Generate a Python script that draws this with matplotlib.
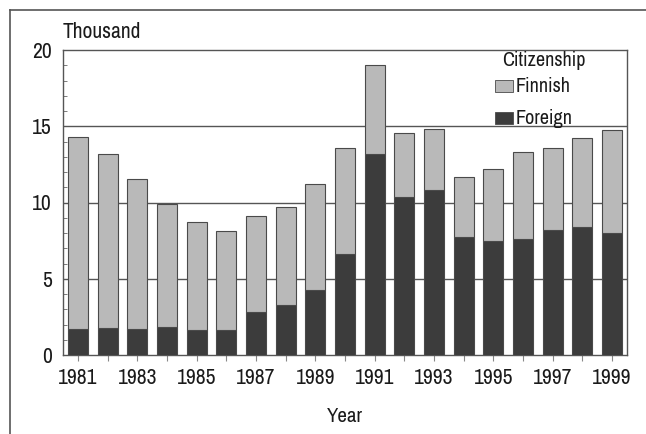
import numpy as np
import matplotlib
matplotlib.use('Agg')
import matplotlib.pyplot as plt
from matplotlib.lines import Line2D
from matplotlib.patches import Rectangle
from matplotlib.ticker import MultipleLocator
from matplotlib import font_manager

names = sorted(set(f.name for f in font_manager.fontManager.ttflist))
cond = [n for n in names if 'Narrow' in n or 'Condensed' in n]
plt.rcParams['font.family'] = cond[:1] + ['Liberation Sans', 'DejaVu Sans'] if cond else ['Liberation Sans', 'DejaVu Sans']
plt.rcParams['font.stretch'] = 'condensed'
plt.rcParams['font.weight'] = 'medium'

# data (thousand persons)
years = list(range(1981, 2000))
total = [14.3, 13.2, 11.55, 9.9, 8.75, 8.15, 9.1, 9.7, 11.2,
         13.55, 19.0, 14.55, 14.8, 11.65, 12.2, 13.3, 13.6, 14.2, 14.75]
foreign = [1.68, 1.75, 1.7, 1.82, 1.62, 1.62, 2.82, 3.28, 4.26,
           6.6, 13.2, 10.35, 10.85, 7.72, 7.45, 7.63, 8.22, 8.37, 8.02]
finnish = [t - f for t, f in zip(total, foreign)]

c_fin = '#b9b9b9'
c_for = '#3c3c3c'
c_edge = '#4a4a4a'
c_txt = '#1a1a1a'

fig = plt.figure(figsize=(6.46, 4.34), dpi=100)
W, H = 646., 434.
ax = fig.add_axes([63/W, 1-355/H, (627-63)/W, (355-50)/H])

ax.bar(years, foreign, width=0.67, color=c_for, edgecolor=c_edge, linewidth=0.8, zorder=3)
ax.bar(years, finnish, width=0.67, bottom=foreign, color=c_fin, edgecolor=c_edge, linewidth=0.8, zorder=3)

for yv in [5, 10, 15]:
    ax.axhline(yv, color='#555555', lw=1.0, zorder=1)

ax.set_xlim(1980.49, 1999.51)
ax.set_ylim(0, 20)
ax.set_yticks([0, 5, 10, 15, 20])
ax.yaxis.set_minor_locator(MultipleLocator(1))
ax.tick_params(axis='y', which='major', length=0, labelsize=15.5, pad=8, labelcolor=c_txt)
ax.tick_params(axis='y', which='minor', direction='in', length=3, color='#666666')
ax.set_xticks(years)
ax.set_xticklabels([str(y) if y % 2 == 1 else '' for y in years])
ax.tick_params(axis='x', length=4, color='#888888', labelsize=15.5, pad=5, labelcolor=c_txt)
for s in ax.spines.values():
    s.set_color('#555555')
    s.set_linewidth(1.0)

ax.text(0.0, 1.025, 'Thousand', transform=ax.transAxes, fontsize=15.5, ha='left', va='bottom', color=c_txt)
fig.text(345/W, 1-417/H, 'Year', fontsize=15, ha='center', va='center', color=c_txt)

# legend
fig.text(544/W, 1-60/H, 'Citizenship', fontsize=14.5, ha='center', va='center', color=c_txt)
for lab, col, yc in [('Finnish', c_fin, 86), ('Foreign', c_for, 118)]:
    fig.patches.append(Rectangle((495/W, 1-(yc+6)/H), 18/W, 12/H, transform=fig.transFigure,
                                 facecolor=col, edgecolor=c_edge, lw=0.6))
    fig.text(516/W, 1-yc/H, lab, fontsize=14.5, ha='left', va='center', color=c_txt)

# outer frame lines
fig.add_artist(Line2D([10/W, 10/W], [0, 1-10/H], color='#555555', lw=1.2, transform=fig.transFigure))
fig.add_artist(Line2D([10/W, 1], [1-10/H, 1-10/H], color='#555555', lw=1.2, transform=fig.transFigure))

fig.savefig('out.png', dpi=100)
